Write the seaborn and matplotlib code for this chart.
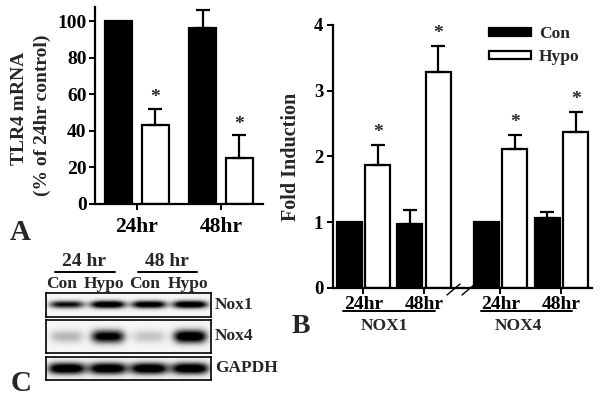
import numpy as np
import pandas as pd
import matplotlib.pyplot as plt
import seaborn as sns
from matplotlib.lines import Line2D
from matplotlib.patches import Patch

# --- data ---
groups = ["Con", "Hypo"]
times = ["24hr", "48hr"]

# panel A: TLR4 mRNA (% of 24hr control)
a_con = [100, 96]
a_con_err = [0, 10]
a_hypo = [43, 25]
a_hypo_err = [9, 12.5]

# panel B: fold induction
nox1_con = [1.0, 0.98]
nox1_con_err = [0, 0.2]
nox1_hypo = [1.87, 3.29]
nox1_hypo_err = [0.30, 0.39]
nox4_con = [1.0, 1.07]
nox4_con_err = [0, 0.09]
nox4_hypo = [2.11, 2.37]
nox4_hypo_err = [0.21, 0.30]

# panel C: band strength per lane (Con, Hypo, Con, Hypo)
blot_rows = ["Nox1", "Nox4", "GAPDH"]
band_nox1 = [0.8, 1.0, 0.95, 1.0]
band_nox4 = [0.3, 0.9, 0.25, 1.0]
band_gapdh = [1.0, 1.0, 1.0, 1.0]

sns.set_style("white")
plt.rcParams["font.family"] = ["Liberation Serif", "DejaVu Serif"]
plt.rcParams["font.weight"] = "bold"
plt.rcParams["axes.labelweight"] = "bold"

W, H = 602, 403
fig = plt.figure(figsize=(W / 100, H / 100), dpi=100)


def box(x0, y0, x1, y1):
    return [x0 / W, 1 - y1 / H, (x1 - x0) / W, (y1 - y0) / H]


def fx(x):
    return x / W


def fy(y):
    return 1 - y / H


def fig_line(x0, y0, x1, y1, lw=1.5):
    fig.add_artist(Line2D([fx(x0), fx(x1)], [fy(y0), fy(y1)], color="black", lw=lw))


def bars(ax, con, con_err, hypo, hypo_err, width, gap, star_off):
    df = pd.DataFrame({
        "time": times * 2,
        "group": ["Con"] * 2 + ["Hypo"] * 2,
        "value": con + hypo,
    })
    sns.barplot(data=df, x="time", y="value", hue="group", hue_order=groups,
                palette={"Con": "black", "Hypo": "white"}, edgecolor="black",
                linewidth=1.6, width=width, gap=gap, errorbar=None,
                legend=False, ax=ax)
    errs = [con_err[0], hypo_err[0], con_err[1], hypo_err[1]]
    stars = [False, True, False, True]
    pats = sorted(ax.patches, key=lambda p: p.get_x())
    for p, e, s in zip(pats, errs, stars):
        xc = p.get_x() + p.get_width() / 2
        top = p.get_height()
        if e > 0:
            ax.errorbar(xc, top, yerr=[[0], [e]], fmt="none", ecolor="black",
                        elinewidth=1.6, capsize=5, capthick=1.6)
        if s:
            ax.annotate("*", (xc, top + e), xytext=(0, star_off),
                        textcoords="offset points", ha="center", va="center",
                        fontsize=14)


def style_axis(ax, left=True):
    for side in ["top", "right"]:
        ax.spines[side].set_visible(False)
    ax.spines["left"].set_visible(left)
    for side in ["left", "bottom"]:
        ax.spines[side].set_linewidth(1.6)
        ax.spines[side].set_color("black")
    ax.set_xlabel("")
    ax.set_ylabel("")
    ax.tick_params(axis="both", direction="out", length=4, width=1.4,
                   colors="black", bottom=True, left=left)
    ax.patch.set_alpha(0)


# ---------------- panel A ----------------
axA = fig.add_axes(box(95, 7, 263, 204))
bars(axA, a_con, a_con_err, a_hypo, a_hypo_err, 0.88, 0.27, 8)
axA.set_xlim(-0.5, 1.5)
axA.set_ylim(0, 107.7)
axA.set_yticks(range(0, 101, 20))
style_axis(axA)
axA.tick_params(axis="y", labelsize=14, pad=2)
axA.tick_params(axis="x", labelsize=15.5, pad=5)
fig.text(fx(20), fy(108), "TLR4 mRNA", rotation=90, ha="center", va="center",
         fontsize=14)
fig.text(fx(42), fy(115), "(% of 24hr control)", rotation=90, ha="center",
         va="center", fontsize=14)
fig.text(fx(10), fy(240), "A", fontsize=21, ha="left", va="baseline")

# ---------------- panel B ----------------
axB1 = fig.add_axes(box(333, 25, 462, 288))
bars(axB1, nox1_con, nox1_con_err, nox1_hypo, nox1_hypo_err, 0.94, 0.12, 9)
axB1.set_xlim(-0.504, 1.628)
axB1.set_ylim(0, 4)
axB1.set_yticks(range(0, 5))
style_axis(axB1)
axB1.tick_params(axis="y", labelsize=13.5, pad=3)
axB1.tick_params(axis="x", labelsize=14, pad=2)
axB1.set_ylabel("Fold Induction", fontsize=14.5, labelpad=9)

axB2 = fig.add_axes(box(462, 25, 592, 288))
bars(axB2, nox4_con, nox4_con_err, nox4_hypo, nox4_hypo_err, 0.94, 0.12, 9)
axB2.set_xlim(-0.631, 1.5)
axB2.set_ylim(0, 4)
style_axis(axB2, left=False)
axB2.set_yticks([])
axB2.tick_params(axis="x", labelsize=14, pad=2)

# axis break marks
fig_line(447, 295, 460, 284, lw=1)
fig_line(462, 295, 475, 284, lw=1)

# group underlines and names
fig_line(343, 311, 435, 311, lw=1.4)
fig_line(481, 311, 572, 311, lw=1.4)
fig.text(fx(384), fy(326), "NOX1", ha="center", va="center", fontsize=12.5)
fig.text(fx(518), fy(326), "NOX4", ha="center", va="center", fontsize=12.5)
fig.text(fx(292), fy(333), "B", fontsize=20, ha="left", va="baseline")

handles = [Patch(facecolor="black", edgecolor="black", lw=1.6),
           Patch(facecolor="white", edgecolor="black", lw=1.6)]
axB2.legend(handles, groups, loc="upper left", bbox_to_anchor=(fx(477), fy(14)),
            bbox_transform=fig.transFigure, frameon=False, fontsize=12.5,
            handlelength=2.4, handleheight=0.35, handletextpad=0.45,
            labelspacing=0.4, borderpad=0.2)

# ---------------- panel C (western blot) ----------------
strips = [(293, 317, band_nox1, 0.17, 0.44),
          (320, 353, band_nox4, 0.22, 0.42),
          (357, 380, band_gapdh, 0.28, 0.47)]
nx, ny = 330, 60
xx = np.linspace(0, 4, nx)
yy = np.linspace(0, 1, ny)
X, Y = np.meshgrid(xx, yy)
for (y0, y1, bands, sy, sx), name in zip(strips, blot_rows):
    ax = fig.add_axes(box(46, y0, 211, y1))
    img = np.full_like(X, 0.06)
    for i, b in enumerate(bands):
        lane = np.exp(-((X - (i + 0.5)) / sx) ** 4) * np.exp(-((Y - 0.5) / sy) ** 2)
        img = img + 1.15 * b * lane
    ax.imshow(np.clip(img, 0, 1), cmap="Greys", vmin=0, vmax=1, aspect="auto",
              extent=[0, 4, 0, 1], interpolation="bilinear")
    ax.set_xticks([])
    ax.set_yticks([])
    for sp in ax.spines.values():
        sp.set_visible(True)
        sp.set_color("black")
        sp.set_linewidth(1.2)
    fig.text(fx(215), fy((y0 + y1) / 2), name, ha="left", va="center",
             fontsize=12.5)

fig.text(fx(84), fy(261), "24 hr", ha="center", va="center", fontsize=14)
fig.text(fx(167), fy(261), "48 hr", ha="center", va="center", fontsize=14)
fig_line(55, 272, 115, 272, lw=1.4)
fig_line(138, 272, 197, 272, lw=1.4)
for lx, lab in zip([62, 104, 145, 188], ["Con", "Hypo", "Con", "Hypo"]):
    fig.text(fx(lx), fy(284), lab, ha="center", va="center", fontsize=12.5)
fig.text(fx(11), fy(391), "C", fontsize=21, ha="left", va="baseline")

fig.savefig("out.png", dpi=100)
